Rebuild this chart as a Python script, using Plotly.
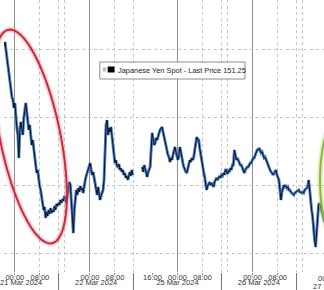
import numpy as np
import pandas as pd
import plotly.graph_objects as go

# ---------------- data ----------------
step_min = 19
seg1_start = "2024-03-20 20:32"
seg1_prices = [
    152.029, 152.059, 152.000, 151.941, 151.882, 151.824, 151.765, 151.706, 151.654, 151.632,
    151.574, 151.610, 151.485, 151.426, 151.375, 151.206, 151.412, 151.471, 151.426, 151.375,
    151.500, 151.574, 151.610, 151.544, 151.485, 151.412, 151.449, 151.353, 151.301, 151.338,
    151.265, 151.206, 151.147, 151.096, 151.118, 151.044, 151.000, 150.971, 150.912, 150.860,
    150.824, 150.846, 150.765, 150.809, 150.779, 150.824, 150.794, 150.838, 150.801, 150.824,
    150.809, 150.853, 150.824, 150.868, 150.853, 150.875, 150.860, 150.897, 150.875, 150.904,
    150.890, 150.926, 150.897, 150.875, 150.934, 150.985, 151.029, 151.007, 150.897, 150.787,
    150.654, 150.824, 150.919, 150.971, 150.934, 150.985, 150.956, 151.000, 150.971, 150.985,
    150.949, 151.007, 151.044, 151.074, 151.103, 151.132, 151.154, 151.169, 151.118, 151.081,
    151.103, 151.059, 151.022, 150.971, 150.934, 150.993, 150.956, 150.897, 150.926, 150.956,
    150.971, 151.044, 151.213, 151.449, 151.485, 151.375, 151.426, 151.397, 151.434, 151.353,
    151.301, 151.228, 151.169, 151.191, 151.147, 151.140, 151.162, 151.118, 151.132, 151.103,
    151.118, 151.081, 151.096, 151.059, 151.074, 151.044, 151.081, 151.103, 151.074, 151.118,
    151.081,
]
seg2_start = "2024-03-24 12:44"
seg2_prices = [
    151.140, 151.103, 151.154, 151.118, 151.081, 151.066, 151.103, 151.132, 151.140, 151.265,
    151.390, 151.338, 151.301, 151.316, 151.353, 151.338, 151.375, 151.390, 151.412, 151.426,
    151.434, 151.397, 151.360, 151.338, 151.279, 151.250, 151.228, 151.213, 151.176, 151.206,
    151.191, 151.228, 151.265, 151.287, 151.250, 151.206, 151.191, 151.228, 151.287, 151.250,
    151.191, 151.169, 151.140, 151.118, 151.103, 151.096, 151.132, 151.169, 151.191, 151.176,
    151.206, 151.191, 151.213, 151.265, 151.316, 151.360, 151.338, 151.338, 151.279, 151.228,
    151.169, 151.132, 151.103, 151.066, 151.022, 150.971, 151.000, 151.015, 151.029, 151.007,
    151.022, 151.007, 150.993, 151.029, 151.044, 151.059, 151.044, 151.066, 151.074, 151.059,
    151.081, 151.074, 151.096, 151.081, 151.118, 151.118, 151.088, 151.110, 151.103, 151.132,
    151.118, 151.154, 151.154, 151.265, 151.221, 151.191, 151.206, 151.191, 151.169, 151.154,
    151.154, 151.132, 151.118, 151.096, 151.118, 151.132, 151.140, 151.140, 151.154, 151.169,
    151.169, 151.191, 151.206, 151.206, 151.228, 151.250, 151.265, 151.265, 151.279, 151.265,
    151.243, 151.250, 151.228, 151.206, 151.213, 151.191, 151.169, 151.154, 151.132, 151.118,
    151.103, 151.096, 151.081, 151.096, 151.103, 151.118, 151.081, 151.066, 151.044, 150.971,
    150.897, 150.956, 150.985, 151.007, 150.993, 151.000, 150.985, 150.993, 150.971, 150.971,
    150.956, 150.949, 150.941, 150.934, 150.949, 150.956, 150.963, 150.971, 150.971, 150.956,
    150.949, 150.949, 150.956, 150.949, 150.971, 150.978, 150.985, 150.993, 151.044, 150.949,
    150.897, 150.824, 150.772, 150.654, 150.603, 150.551, 150.676, 150.824, 150.860, 150.875,
    150.846, 150.824, 150.801, 150.765, 150.735,
]
legend_text = "Japanese Yen Spot - Last Price 151.25"

midnight_ticks = ["2024-03-21 00:00", "2024-03-22 00:00", "2024-03-25 00:00", "2024-03-26 00:00"]
hour_ticks = ["2024-03-21 08:00", "2024-03-22 08:00", "2024-03-24 16:00", "2024-03-25 08:00", "2024-03-26 08:00"]
hour_labels = ["08:00", "08:00", "16:00", "08:00", "08:00"]
dotted_grid = ["2024-03-21 08:00", "2024-03-21 16:00", "2024-03-22 08:00",
               "2024-03-25 08:00", "2024-03-25 16:00", "2024-03-26 08:00", "2024-03-26 16:00"]
session_bounds = ["2024-03-21 14:00", "2024-03-22 14:00", "2024-03-25 14:00", "2024-03-26 14:00"]
session_centers = ["2024-03-21 02:00", "2024-03-22 02:00", "2024-03-25 00:00", "2024-03-26 02:00"]
session_labels = ["21 Mar 2024", "22 Mar 2024", "25 Mar 2024", "26 Mar 2024"]
cut_tick = "2024-03-27 00:00"
cut_center = "2024-03-27 02:00"
cut_label = "27 Mar 2024"

x_range = ["2024-03-20 20:32", "2024-03-26 22:50"]
break_start = "2024-03-22 14:00:30"
break_hours = 44
y_range = [150.3676, 152.3676]
y_grid = [150.5, 151.0, 151.5, 152.0]

# ---------------- figure ----------------
W, H = 324, 290
M_B = 18
PH = H - M_B

t1 = pd.date_range(seg1_start, periods=len(seg1_prices), freq=f"{step_min}min")
t2 = pd.date_range(seg2_start, periods=len(seg2_prices), freq=f"{step_min}min")
xs = list(t1) + [None] + list(t2)
ys = list(seg1_prices) + [None] + list(seg2_prices)

FONT = "Liberation Sans"
TICKFONT = dict(family=FONT, size=7.5, color="#333")
rb = [dict(values=[break_start], dvalue=break_hours * 3600 * 1000)]

def disp_hours(ts):
    ts = pd.Timestamp(ts)
    h = (ts - pd.Timestamp("2024-03-21")).total_seconds() / 3600
    if ts >= pd.Timestamp(break_start):
        h -= break_hours
    return h

def to_paper_x(ts):
    a, b = disp_hours(x_range[0]), disp_hours(x_range[1])
    return (disp_hours(ts) - a) / (b - a)

fig = go.Figure()
fig.add_trace(go.Scatter(x=xs, y=ys, mode="lines", line=dict(color="#4a7fc8", width=2.9),
                         connectgaps=False, hoverinfo="skip"))
fig.add_trace(go.Scatter(x=xs, y=ys, mode="lines", line=dict(color="#0c1220", width=1.0),
                         connectgaps=False, hoverinfo="skip"))

base_x = dict(type="date", range=x_range, rangebreaks=rb, zeroline=False, showline=False,
              tickfont=TICKFONT, ticklabeloverflow="allow")

fig.update_layout(
    width=W, height=H, margin=dict(l=0, r=0, t=0, b=M_B),
    paper_bgcolor="white", plot_bgcolor="white", showlegend=False,
    xaxis=dict(**base_x, tickmode="array", tickvals=midnight_ticks, ticktext=["00:00"] * 4,
               showgrid=True, gridcolor="#8f8f8f", gridwidth=1,
               ticks="outside", ticklen=2, tickcolor="#888", ticklabelstandoff=-4),
    xaxis2=dict(**base_x, overlaying="x", anchor="y", side="bottom", tickmode="array",
                tickvals=hour_ticks, ticktext=hour_labels, showgrid=False,
                ticks="outside", ticklen=2, tickcolor="#888", ticklabelstandoff=-4),
    xaxis3=dict(**base_x, overlaying="x", anchor="y", side="bottom", tickmode="array",
                tickvals=dotted_grid, showticklabels=False, showgrid=True,
                gridcolor="#c4c4c4", griddash="dot", gridwidth=1, ticks=""),
    xaxis4=dict(**base_x, overlaying="x", anchor="y", side="bottom", tickmode="array",
                tickvals=session_bounds, showticklabels=False, showgrid=True,
                gridcolor="#c4c4c4", griddash="dot", gridwidth=1,
                ticks="outside", ticklen=18, tickcolor="#777"),
    xaxis5=dict(**base_x, overlaying="x", anchor="y", side="bottom", tickmode="array",
                tickvals=session_centers, ticktext=session_labels, showgrid=False,
                ticks="", ticklabelstandoff=4),
    yaxis=dict(range=y_range, tickmode="array", tickvals=y_grid, showticklabels=False,
               showgrid=True, gridcolor="#c4c4c4", griddash="dot", gridwidth=1,
               zeroline=False, showline=False),
)
# invisible traces that activate the overlay axes
for ax in ["x2", "x3", "x4", "x5"]:
    fig.add_trace(go.Scatter(x=[x_range[0]], y=[y_range[0]], xaxis=ax, yaxis="y",
                             mode="markers", marker=dict(opacity=0), hoverinfo="skip"))

def px2paper(px, py):
    return px / W, 1 - py / PH

def ellipse_path(cx, cy, a, b, phi_deg, n=120):
    """a: semi-axis along the (nearly) vertical direction, b: across it."""
    phi = np.radians(phi_deg)
    u = np.array([np.sin(phi), np.cos(phi)])
    v = np.array([np.cos(phi), -np.sin(phi)])
    t = np.linspace(0, 2 * np.pi, n)
    pts = [np.array([cx, cy]) + a * np.cos(tt) * u + b * np.sin(tt) * v for tt in t]
    s = ""
    for i, p in enumerate(pts):
        x, y = px2paper(p[0], p[1])
        s += ("M" if i == 0 else "L") + f"{x:.5f},{y:.5f} "
    return s + "Z"

red = ellipse_path(26.5, 136.5, 109, 30.5, 11.7)
green = ellipse_path(339, 180, 62, 19, 0)
for path, glow, col in [(red, "rgba(232,130,140,0.35)", "#c42d3b"),
                        (green, "rgba(190,220,120,0.45)", "#8db63a")]:
    fig.add_shape(type="path", path=path, xref="paper", yref="paper",
                  line=dict(color=glow, width=5.5), layer="above")
    fig.add_shape(type="path", path=path, xref="paper", yref="paper",
                  line=dict(color=col, width=2), layer="above")

# legend box
lx0, ly0 = px2paper(97, 79)
lx1, ly1 = px2paper(244, 62)
fig.add_shape(type="rect", xref="paper", yref="paper", x0=lx0, y0=ly0, x1=lx1, y1=ly1,
              line=dict(color="#8c8c8c", width=1), fillcolor="white", layer="above")
ix0, iy0 = px2paper(100, 71.5)
ix1, iy1 = px2paper(103.5, 67.5)
fig.add_shape(type="rect", xref="paper", yref="paper", x0=ix0, y0=iy0, x1=ix1, y1=iy1,
              line=dict(width=0), fillcolor="#bdbdbd", layer="above")
bx0, by0 = px2paper(105, 72.5)
bx1, by1 = px2paper(112, 66.5)
fig.add_shape(type="rect", xref="paper", yref="paper", x0=bx0, y0=by0, x1=bx1, y1=by1,
              line=dict(width=0), fillcolor="#000000", layer="above")
tx, ty = px2paper(113.5, 70)
fig.add_annotation(text=legend_text, xref="paper", yref="paper", x=tx, y=ty,
                   xanchor="left", yanchor="middle", showarrow=False,
                   font=dict(family=FONT, size=7.4, color="#222"))

# labels of the next day, cut by the right edge as in the reference
fig.add_annotation(text="00:00", xref="paper", yref="paper", x=to_paper_x(cut_tick), y=0,
                   yshift=0, xanchor="center", yanchor="top", showarrow=False,
                   font=TICKFONT)
fig.add_annotation(text=cut_label, xref="paper", yref="paper", x=to_paper_x(cut_center), y=0,
                   yshift=-7.5, xanchor="center", yanchor="top", showarrow=False,
                   font=TICKFONT)

fig.write_html("out.html")
